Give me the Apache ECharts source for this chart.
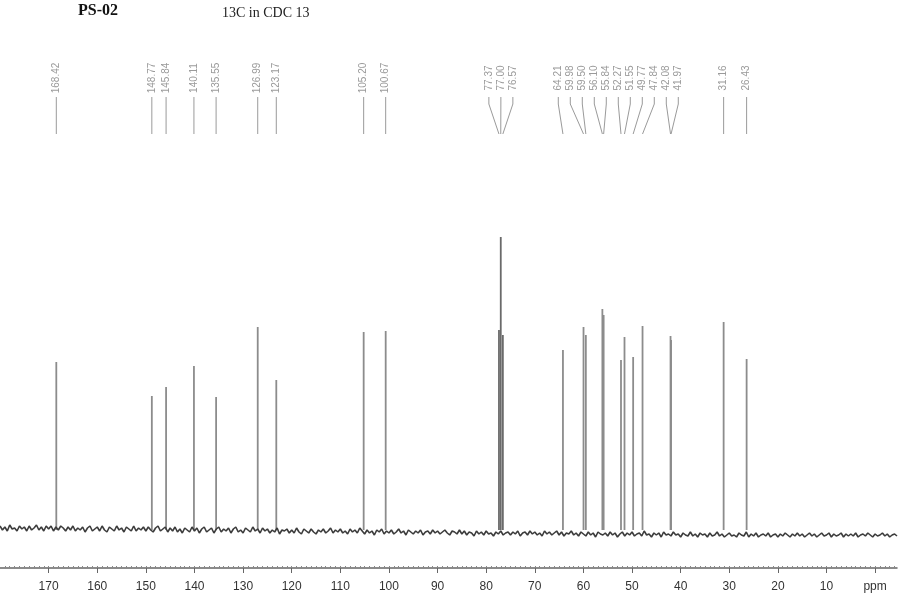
<!DOCTYPE html>
<html>
<head>
<meta charset="utf-8">
<script src="https://cdn.jsdelivr.net/npm/echarts@6/dist/echarts.min.js"></script>
<style>
html,body{margin:0;padding:0;background:#fff;}
#chart{width:907px;height:610px;}
</style>
</head>
<body>
<div id="chart"></div>
<script>
// ---- data ----
var titleLeft = 'PS-02';
var titleRight = '13C in CDC 13';
var peakPpm = [168.42,148.77,145.84,140.11,135.55,126.99,123.17,105.20,100.67,77.37,77.00,76.57,64.21,59.98,59.50,56.10,55.84,52.27,51.55,49.77,47.84,42.08,41.97,31.16,26.43];
var peakHeight = [168,134,143,164,133,203,150,198,199,200,293,195,180,203,195,221,215,170,193,173,204,194,190,208,171];
var peakLabels = ['168.42','148.77','145.84','140.11','135.55','126.99','123.17','105.20','100.67','77.37','77.00','76.57','64.21','59.98','59.50','56.10','55.84','52.27','51.55','49.77','47.84','42.08','41.97','31.16','26.43'];
var axisTicks = [170,160,150,140,130,120,110,100,90,80,70,60,50,40,30,20,10,0];
var axisTickLabels = ['170','160','150','140','130','120','110','100','90','80','70','60','50','40','30','20','10','ppm'];
var noiseStart = 180;   // ppm of first noise sample
var noiseStep = 0.5;    // ppm between noise samples (downwards)
var noiseValues = [
 4,0,3,-1,5,1,2,-1,4,1,
 3,-1,4,0,2,5,0,3,-1,4,
 1,4,-1,3,0,4,2,-1,3,0,
 4,-1,2,0,3,-2,2,4,-1,1,
 3,-1,4,0,-2,3,1,-1,4,0,
 2,-2,3,1,-1,4,-1,2,0,3,
 -1,3,0,-2,2,4,-1,1,3,-2,
 2,-1,3,-2,1,-3,2,0,-2,3,
 -1,2,-3,1,3,-2,0,2,-3,1,
 3,-2,1,-1,2,-3,1,3,-2,0,
 -3,2,0,-2,3,-1,1,-3,2,-1,
 1,-3,0,-2,2,-4,0,-1,1,-3,
 0,-3,2,-2,-4,1,-1,-3,1,-2,
 -4,0,-2,1,-3,-1,2,-3,0,-2,
 1,-3,-1,-4,1,-2,0,-3,2,-1,
 -4,0,-3,-1,-5,0,-2,1,-4,-1,
 -3,0,-4,-2,1,-3,-1,-5,0,-2,
 -4,-1,-3,0,-5,-2,-1,-4,0,-3,
 -1,-4,-2,0,-3,-5,-1,-2,-4,0,
 -4,-1,-5,-2,-3,-6,-1,-4,-2,-5,
 -1,-4,-3,-6,-2,-4,-1,-5,-3,-2,
 -5,-2,-4,-1,-6,-3,-2,-5,-1,-4,
 -2,-5,-3,-6,-1,-4,-2,-5,-3,-1,
 -5,-2,-6,-3,-4,-1,-5,-3,-6,-2,
 -4,-6,-2,-5,-3,-7,-2,-4,-5,-3,
 -6,-2,-5,-3,-7,-4,-2,-6,-3,-5,
 -2,-6,-4,-3,-6,-1,-5,-4,-7,-3,
 -5,-3,-7,-2,-5,-4,-6,-2,-5,-4,
 -7,-3,-5,-6,-2,-6,-4,-7,-3,-5,
 -4,-7,-3,-6,-5,-2,-6,-4,-7,-5,
 -3,-6,-5,-7,-3,-5,-6,-2,-7,-4,
 -6,-3,-7,-5,-4,-6,-3,-7,-5,-4,
 -7,-4,-6,-3,-5,-7,-4,-6,-3,-6,
 -4,-7,-5,-3,-6,-4,-7,-5,-3,-6,
 -5,-3,-7,-4,-6,-5,-3,-7,-4,-6,
 -4,-6,-3,-7,-5,-4,-6,-3,-5,-7,
 -4,-6,-5,-3,-6,-4,-7,-5,-4,-6
];

// ---- build series data ----
var noiseData = noiseValues.map(function(v,i){ return [noiseStart - i*noiseStep, v]; });
var peakData = peakPpm.map(function(p,i){
  var d = {value:[p, peakHeight[i]]};
  if (p > 76 && p < 78) d.itemStyle = {color:'#6a6a6a'};
  return d;
});
var minorTicks = [];
for (var t = 179; t >= -4; t--) minorTicks.push(t);

var chart = echarts.init(document.getElementById('chart'));
chart.setOption({
  animation:false,
  backgroundColor:'#fff',
  grid:{left:0,right:10,top:230,bottom:42,containLabel:false},
  xAxis:[{
    type:'value', inverse:true, min:-4.5, max:180,
    axisLine:{show:true,onZero:false,lineStyle:{color:'#666',width:1.5}},
    axisTick:{show:true,customValues:axisTicks,length:5,lineStyle:{color:'#666'}},
    axisLabel:{show:true,customValues:axisTicks,margin:13,color:'#333',fontSize:12,
      fontFamily:'Liberation Sans',
      formatter:function(v){ var k = axisTicks.indexOf(v); return k>=0?axisTickLabels[k]:''; }},
    splitLine:{show:false}
  },{
    type:'value', inverse:true, min:-4.5, max:180, position:'bottom',
    axisLine:{show:false,onZero:false},
    axisTick:{show:true,customValues:minorTicks,inside:true,length:2,lineStyle:{color:'#888'}},
    axisLabel:{show:false},
    splitLine:{show:false}
  }],
  yAxis:{type:'value',min:-38,max:300,show:false,splitLine:{show:false}},
  series:[{
    type:'line', data:noiseData, xAxisIndex:0, symbol:'none', silent:true,
    lineStyle:{color:'#3c3c3c',width:1.6}, z:3
  },{
    type:'bar', data:peakData, xAxisIndex:0, barWidth:1.8, silent:true,
    itemStyle:{color:'#8c8c8c'}, z:2
  }]
});

// ---- peak labels with connectors ----
var gap = 12;
var items = peakPpm.map(function(p,i){
  return {i:i, px: chart.convertToPixel({xAxisIndex:0}, p)};
}).sort(function(a,b){ return a.px - b.px; });
var clusters = items.map(function(it){ return {m:[it], c:it.px}; });
var merged = true;
while (merged) {
  merged = false;
  for (var k = 0; k < clusters.length-1; k++) {
    var a = clusters[k], b = clusters[k+1];
    var aR = a.c + (a.m.length-1)/2*gap, bL = b.c - (b.m.length-1)/2*gap;
    if (aR + gap > bL) {
      var m = a.m.concat(b.m);
      var s = 0; m.forEach(function(x){ s += x.px; });
      clusters.splice(k, 2, {m:m, c:s/m.length});
      merged = true; break;
    }
  }
}
var graphics = [];
clusters.forEach(function(cl){
  cl.m.forEach(function(it, j){
    var lx = cl.m.length === 1 ? it.px : cl.c + (j - (cl.m.length-1)/2) * gap;
    graphics.push({
      type:'text', x:lx, y:78, rotation:Math.PI/2, silent:true,
      style:{text:peakLabels[it.i], fill:'#9a9a9a', fontSize:10, fontFamily:'Liberation Sans',
        align:'center', verticalAlign:'middle'}
    });
    graphics.push({
      type:'polyline', silent:true,
      shape:{points:[[lx,97],[lx,104],[it.px,134]]},
      style:{stroke:'#9a9a9a', lineWidth:1, fill:null}
    });
  });
});
graphics.push({type:'text', left:78, top:3, silent:true,
  style:{text:titleLeft, fill:'#111', fontSize:16, fontWeight:'bold', fontFamily:'Liberation Serif'}});
graphics.push({type:'text', left:222, top:6, silent:true,
  style:{text:titleRight, fill:'#222', fontSize:14, fontFamily:'Liberation Serif'}});
chart.setOption({graphic:graphics});
</script>
</body>
</html>
